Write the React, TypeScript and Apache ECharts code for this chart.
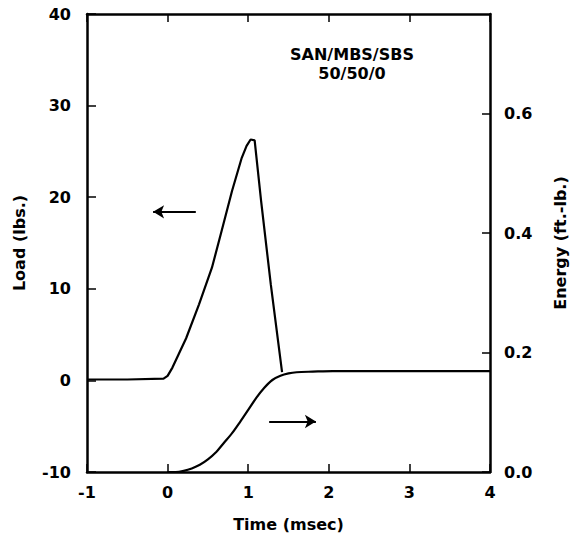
import React, { useEffect, useRef } from "react";
import * as echarts from "echarts";

const loadTime = [-1, -0.5, -0.05, 0.0, 0.06, 0.23, 0.39, 0.55, 0.67, 0.8, 0.92, 0.98, 1.03, 1.08, 1.16, 1.28, 1.42];
const loadValues = [0.1, 0.1, 0.2, 0.5, 1.4, 4.6, 8.3, 12.3, 16.3, 20.7, 24.3, 25.6, 26.3, 26.2, 19.6, 10.5, 0.9];

const energyTime = [0.0, 0.1, 0.2, 0.3, 0.4, 0.5, 0.6, 0.7, 0.8, 0.9, 1.0, 1.1, 1.2, 1.3, 1.4, 1.5, 1.6, 1.8, 2.05, 3.0, 4.0];
const energyValues = [0.0, 0.0, 0.002, 0.006, 0.012, 0.021, 0.033, 0.049, 0.065, 0.084, 0.104, 0.124, 0.141, 0.154, 0.161, 0.165, 0.167, 0.168, 0.169, 0.169, 0.169];

const titleLines = ["SAN/MBS/SBS", "50/50/0"];
const xName = "Time (msec)";
const loadName = "Load (lbs.)";
const energyName = "Energy (ft.-lb.)";

const loadArrow = [[0.35, 18.4], [-0.18, 18.4]];
const energyArrow = [[1.26, 0.0845], [1.84, 0.0845]];

const FONT = "DejaVu Sans";

export default function App() {
  const ref = useRef<HTMLDivElement>(null);
  useEffect(() => {
    if (!ref.current) return;
    const chart = echarts.init(ref.current, null, { renderer: "svg" });
    const labelStyle = { color: "#000", fontFamily: FONT, fontWeight: "bold" as const, fontSize: 16 };
    const axisLine = { show: true, onZero: false, lineStyle: { color: "#000", width: 2.5 } };
    const titleStyle = { ...labelStyle, fontSize: 16, lineHeight: 16 };
    chart.setOption({
      animation: false,
      backgroundColor: "#fff",
      grid: { left: 87, right: 76, top: 14, bottom: 67, containLabel: false },
      title: [
        { text: titleLines[0], left: 352, top: 46, textAlign: "center", padding: 0, textStyle: titleStyle },
        { text: titleLines[1], left: 352, top: 65, textAlign: "center", padding: 0, textStyle: titleStyle },
      ],
      xAxis: [
        {
          type: "value",
          min: -1,
          max: 4,
          interval: 1,
          position: "bottom",
          axisLine,
          axisTick: { show: true, inside: true, length: 8, lineStyle: { color: "#000", width: 1.5 } },
          axisLabel: { ...labelStyle, margin: 12 },
          splitLine: { show: false },
          name: xName,
          nameLocation: "middle",
          nameGap: 44,
          nameTextStyle: labelStyle,
        },
        {
          type: "value",
          min: -1,
          max: 4,
          interval: 1,
          position: "top",
          axisLine,
          axisTick: { show: true, inside: true, length: 8, lineStyle: { color: "#000", width: 1.5 } },
          axisLabel: { show: false },
          splitLine: { show: false },
        },
      ],
      yAxis: [
        {
          type: "value",
          min: -10,
          max: 40,
          interval: 10,
          position: "left",
          axisLine,
          axisTick: { show: true, inside: true, length: 9, lineStyle: { color: "#000", width: 1.5 } },
          axisLabel: { ...labelStyle, margin: 16 },
          splitLine: { show: false },
          name: loadName,
          nameLocation: "middle",
          nameRotate: 90,
          nameGap: 60,
          nameTextStyle: labelStyle,
        },
        {
          type: "value",
          min: 0,
          max: 0.7667,
          interval: 0.2,
          position: "right",
          axisLine,
          axisTick: { show: true, inside: true, length: 8, lineStyle: { color: "#000", width: 1.5 } },
          axisLabel: {
            ...labelStyle,
            margin: 14,
            showMaxLabel: false,
            formatter: (v: number) => v.toFixed(1),
          },
          splitLine: { show: false },
          name: energyName,
          nameLocation: "middle",
          nameRotate: 90,
          nameGap: 62,
          nameTextStyle: labelStyle,
        },
      ],
      series: [
        {
          type: "line",
          xAxisIndex: 0,
          yAxisIndex: 0,
          data: loadTime.map((t, i) => [t, loadValues[i]]),
          showSymbol: false,
          symbol: "none",
          lineStyle: { color: "#000", width: 2.2 },
          markLine: {
            silent: true,
            symbol: ["none", "arrow"],
            symbolSize: [10, 11],
            label: { show: false },
            lineStyle: { color: "#000", width: 2, type: "solid" },
            data: [[{ coord: loadArrow[0] }, { coord: loadArrow[1] }]],
          },
        },
        {
          type: "line",
          xAxisIndex: 0,
          yAxisIndex: 1,
          data: energyTime.map((t, i) => [t, energyValues[i]]),
          showSymbol: false,
          symbol: "none",
          smooth: 0.3,
          lineStyle: { color: "#000", width: 2.2 },
          markLine: {
            silent: true,
            symbol: ["none", "arrow"],
            symbolSize: [10, 11],
            label: { show: false },
            lineStyle: { color: "#000", width: 2, type: "solid" },
            data: [[{ coord: energyArrow[0] }, { coord: energyArrow[1] }]],
          },
        },
      ],
    });
    return () => chart.dispose();
  }, []);
  return <div ref={ref} style={{ width: 576, height: 539, position: "absolute", left: 0, top: 0 }} />;
}
